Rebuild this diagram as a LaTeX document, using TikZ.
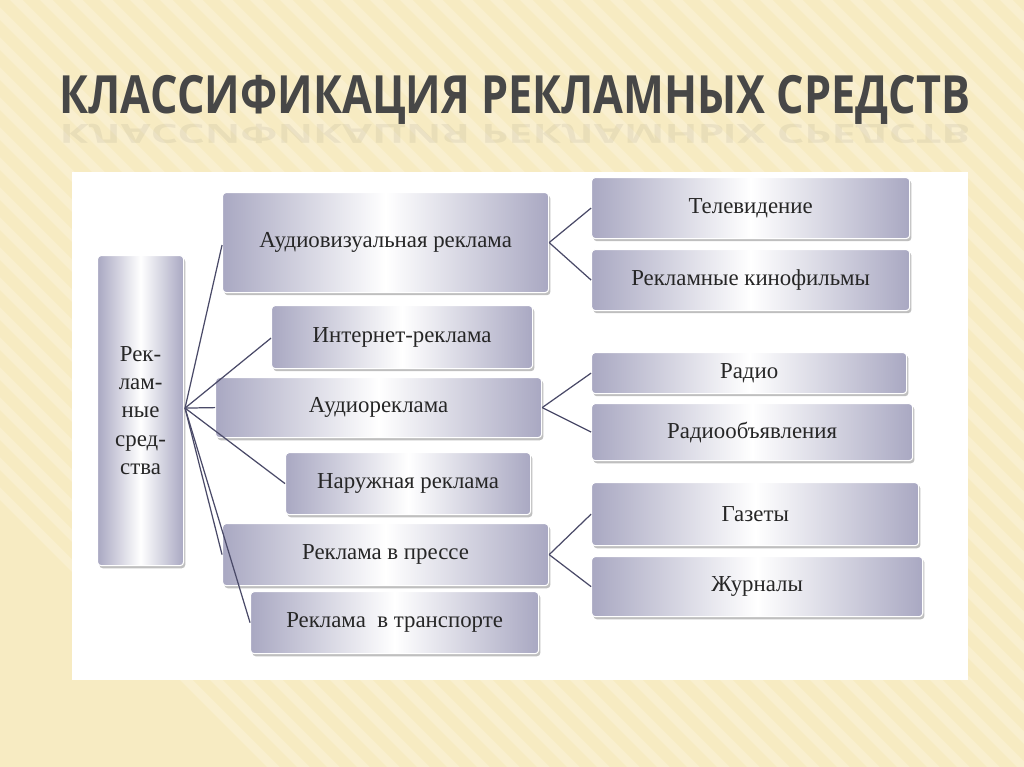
\documentclass[tikz,border=0pt]{standalone}
\usepackage{fontspec}
\setmainfont{Liberation Serif}
\newfontfamily\titlefont{Open Sans}
\usetikzlibrary{shadows}
\definecolor{bg}{HTML}{F7EBC2}
\definecolor{stripe}{HTML}{FBF3D8}
\definecolor{boxedge}{HTML}{A9A8C2}
\definecolor{lin}{HTML}{4A4A68}
\tikzset{
 bx/.style={draw=white, line width=0.6pt, rounded corners=2pt, left color=boxedge, right color=boxedge, middle color=white,
   drop shadow={shadow xshift=1pt,shadow yshift=-1.5pt,opacity=0.5}, font=\fontsize{13}{16}\selectfont, text=black!85, align=center},
 cn/.style={draw=lin, line width=0.7pt},
 ttl/.style={font=\titlefont\bfseries\fontsize{30}{32}\selectfont, text=black!72, xscale=0.82}
}
\newcommand{\bxat}[6]{\node[bx, minimum width=#3*0.02cm-#1*0.02cm, minimum height=#4*0.02cm-#2*0.02cm, anchor=north west, inner sep=0pt] (#5) at (#1*0.02, -#2*0.02) {#6};}
\begin{document}
\begin{tikzpicture}
\useasboundingbox (0,0) rectangle (20.48,-15.34);
\fill[bg] (0,0) rectangle (20.48,-15.34);
\begin{scope}
\clip (0,0) rectangle (20.48,-15.34);
\foreach \i in {0,...,60} {\fill[stripe,opacity=0.6] (\i*0.6-10,0) -- ++(0.25,0) -- ++(15.34,-15.34) -- ++(-0.25,0) -- cycle;}
\end{scope}
\node[ttl] (title) at (10.3,-2.0) {КЛАССИФИКАЦИЯ РЕКЛАМНЫХ СРЕДСТВ};
\node[ttl, opacity=0.08, yscale=-0.5] (refl) at (10.3,-2.62) {КЛАССИФИКАЦИЯ РЕКЛАМНЫХ СРЕДСТВ};
\fill[white] (72*0.02,-172*0.02) rectangle (968*0.02,-680*0.02);
\bxat{97}{255}{183}{565}{L}{Рек-\\лам-\\ные\\сред-\\ства}
\bxat{222}{192}{548}{292}{av}{Аудиовизуальная реклама}
\bxat{591}{177}{909}{238}{tv}{Телевидение}
\bxat{591}{249}{909}{310}{kf}{Рекламные кинофильмы}
\bxat{271}{305}{532}{368}{in}{Интернет-реклама}
\bxat{215}{377}{541}{437}{au}{Аудиореклама}
\bxat{591}{352}{906}{393}{ra}{Радио}
\bxat{591}{403}{912}{460}{ro}{Радиообъявления}
\bxat{285}{452}{530}{514}{na}{Наружная реклама}
\bxat{222}{523}{548}{585}{pr}{Реклама в прессе}
\bxat{591}{482}{918}{545}{ga}{Газеты}
\bxat{591}{556}{922}{616}{zh}{Журналы}
\bxat{250}{591}{538}{653}{tr}{Реклама\ \ в транспорте}
\coordinate (o) at (185*0.02,-408*0.02);
\draw[cn] (o) -- (av.west |- 0,-245*0.02);
\draw[cn] (o) -- (in.west |- 0,-338*0.02);
\draw[cn] (o) -- (au.west);
\draw[cn] (o) -- (na.west);
\draw[cn] (o) -- (pr.west);
\draw[cn] (o) -- (tr.west);
\draw[cn] (av.east) -- (tv.west); \draw[cn] (av.east) -- (kf.west);
\draw[cn] (au.east) -- (ra.west); \draw[cn] (au.east) -- (ro.west);
\draw[cn] (pr.east) -- (ga.west); \draw[cn] (pr.east) -- (zh.west);
\end{tikzpicture}
\end{document}
